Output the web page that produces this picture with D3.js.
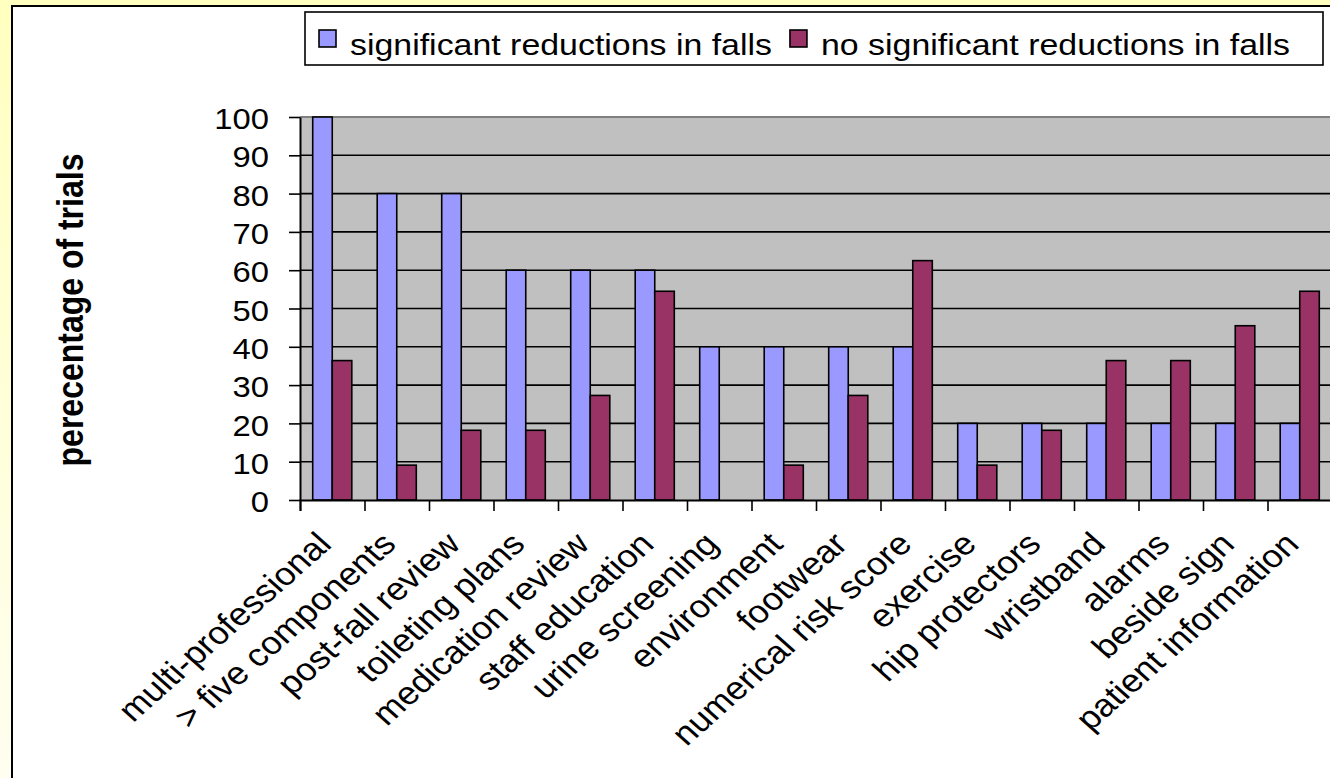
<!DOCTYPE html>
<html>
<head>
<meta charset="utf-8">
<script src="https://cdn.jsdelivr.net/npm/d3@7"></script>
<style>
  html, body { margin: 0; padding: 0; background: #fff; }
  svg { display: block; font-family: "Liberation Sans", Arial, sans-serif; }
</style>
</head>
<body>
<svg id="chart" width="1330" height="778"></svg>
<script>
// Interventions compared across trials
const categories = [
  "multi-professional", "> five components", "post-fall review", "toileting plans",
  "medication review", "staff education", "urine screening", "environment",
  "footwear", "numerical risk score", "exercise", "hip protectors",
  "wristband", "alarms", "beside sign", "patient information"
];
// percentage of trials showing significant reductions in falls
const sigValues = [100, 80, 80, 60, 60, 60, 40, 40, 40, 40, 20, 20, 20, 20, 20, 20];
// percentage of trials showing no significant reductions in falls
const nonSigValues = [36.4, 9.1, 18.2, 18.2, 27.3, 54.5, 0, 9.1, 27.3, 62.5, 9.1, 18.2, 36.4, 36.4, 45.5, 54.5];
const seriesNames = ["significant reductions in falls", "no significant reductions in falls"];
const yTickValues = [0, 10, 20, 30, 40, 50, 60, 70, 80, 90, 100];
const yTitle = "perecentage of trials";

const colors = ["#9999FF", "#993366"];
const stretch = 1.13;   // horizontal glyph stretch used for all text

const svg = d3.select("#chart");
const W = 1330, H = 778;

// page background and chart panel
const defs = svg.append("defs");
const grad = defs.append("linearGradient").attr("id", "bg").attr("x1", 0).attr("y1", 0).attr("x2", 0).attr("y2", 1);
grad.append("stop").attr("offset", "0%").attr("stop-color", "#FFFFBF");
grad.append("stop").attr("offset", "100%").attr("stop-color", "#FFFEF0");
svg.append("rect").attr("width", W).attr("height", H).attr("fill", "url(#bg)");
svg.append("rect").attr("x", 12).attr("y", 6).attr("width", W + 20).attr("height", H + 20)
  .attr("fill", "#fff").attr("stroke", "#000").attr("stroke-width", 2);

// plot geometry
const plot = { left: 300, top: 117, bottom: 500, right: 1332 };

const x = d3.scaleBand().domain(categories).range([plot.left, plot.right]).padding(0);
const xInner = d3.scaleBand().domain([0, 1]).range([0, x.bandwidth()]).paddingInner(0).paddingOuter(0.65);
const y = d3.scaleLinear().domain([0, 100]).range([plot.bottom, plot.top]);
const xEdges = d3.scaleLinear().domain([0, categories.length]).range([plot.left, plot.right]);

// plot background
svg.append("rect").attr("x", plot.left).attr("y", plot.top)
  .attr("width", plot.right - plot.left).attr("height", plot.bottom - plot.top)
  .attr("fill", "#C0C0C0");

// gridlines
svg.append("g").selectAll("line").data(yTickValues.filter(v => v > 0 && v < 100)).join("line")
  .attr("x1", plot.left).attr("x2", plot.right)
  .attr("y1", d => y(d)).attr("y2", d => y(d))
  .attr("stroke", "#000").attr("stroke-width", 1.6);

// plot border (top)
svg.append("line").attr("x1", plot.left).attr("x2", plot.right)
  .attr("y1", plot.top).attr("y2", plot.top)
  .attr("stroke", "#808080").attr("stroke-width", 2);

// bars
const groups = svg.append("g").selectAll("g").data(categories).join("g")
  .attr("transform", d => `translate(${x(d)},0)`);
groups.selectAll("rect").data((d, i) => [sigValues[i], nonSigValues[i]]).join("rect")
  .attr("x", (v, j) => xInner(j))
  .attr("width", xInner.bandwidth())
  .attr("y", v => y(v))
  .attr("height", v => y(0) - y(v))
  .attr("fill", (v, j) => colors[j])
  .attr("stroke", "#000").attr("stroke-width", 1.6)
  .attr("display", v => v > 0 ? null : "none");

// y axis
const yAxis = svg.append("g").attr("transform", `translate(${plot.left},0)`)
  .call(d3.axisLeft(y).tickValues(yTickValues).tickSize(11).tickPadding(20).tickSizeOuter(0));
yAxis.select(".domain").attr("stroke", "#000").attr("stroke-width", 2);
yAxis.selectAll(".tick line").attr("stroke", "#000").attr("stroke-width", 1.6);
yAxis.selectAll(".tick text")
  .attr("font-size", 29).attr("fill", "#000").attr("font-family", "Liberation Sans, Arial, sans-serif")
  .attr("x", null).attr("dy", "0.4em")
  .attr("transform", `translate(-31,0) scale(${stretch},1)`);

// x axis with ticks on category boundaries
const xAxis = svg.append("g").attr("transform", `translate(0,${plot.bottom})`)
  .call(d3.axisBottom(xEdges).tickValues(d3.range(0, categories.length + 1)).tickSize(11).tickFormat(""));
xAxis.select(".domain").attr("stroke", "#000").attr("stroke-width", 2);
xAxis.selectAll(".tick line").attr("stroke", "#000").attr("stroke-width", 1.6);

// rotated category labels
svg.append("g").selectAll("text").data(categories).join("text")
  .attr("text-anchor", "end")
  .attr("font-size", 32)
  .attr("fill", "#000")
  .attr("transform", d => `translate(${x(d) + x.bandwidth() / 2 - 8},${plot.bottom + 38}) scale(${stretch},1) rotate(-45)`)
  .attr("dy", "0.35em")
  .text(d => d);

// y-axis title
svg.append("text")
  .attr("transform", `translate(83,310) scale(${stretch},1) rotate(-90)`)
  .attr("text-anchor", "middle")
  .attr("font-size", 32).attr("font-weight", "bold")
  .text(yTitle);

// legend
const legend = svg.append("g");
legend.append("rect")
  .attr("x", 305).attr("y", 12).attr("width", 1018).attr("height", 53)
  .attr("fill", "#fff").attr("stroke", "#000").attr("stroke-width", 1.6);
let lx = 319;
seriesNames.forEach((name, i) => {
  legend.append("rect").attr("x", lx).attr("y", 30).attr("width", 17).attr("height", 17)
    .attr("fill", colors[i]).attr("stroke", "#000").attr("stroke-width", 1.6);
  const t = legend.append("text")
    .attr("transform", `translate(${lx + 31},55) scale(${stretch},1)`)
    .attr("font-size", 30).attr("fill", "#000")
    .text(name);
  lx += 31 + t.node().getComputedTextLength() * stretch + 18;
});
</script>
</body>
</html>
